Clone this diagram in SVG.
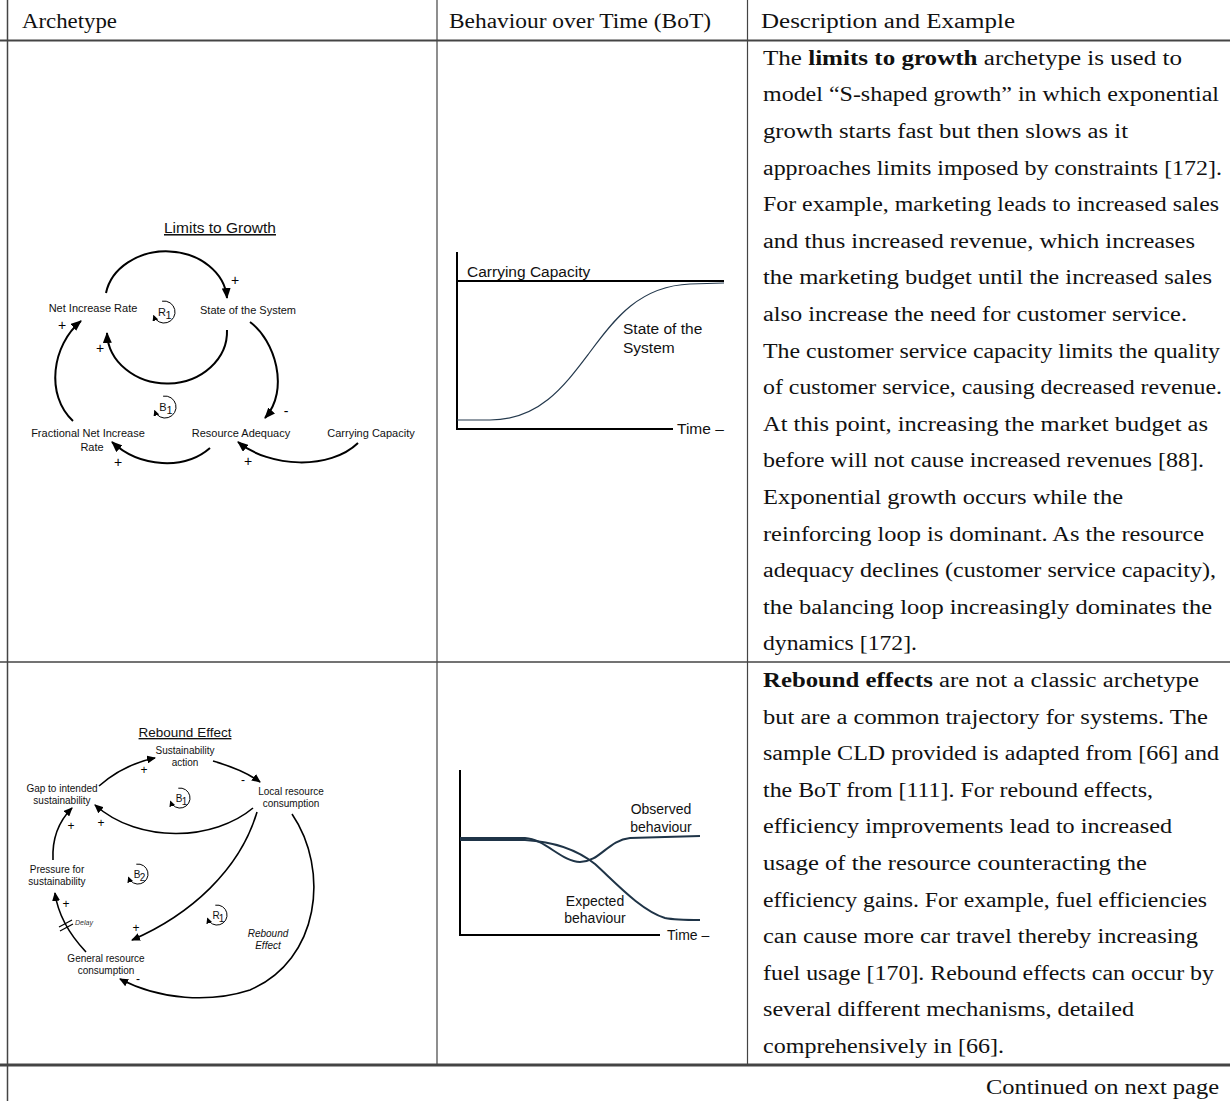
<svg xmlns="http://www.w3.org/2000/svg" width="1230" height="1101" viewBox="0 0 1230 1101">
<style>
.body{font-family:"Liberation Serif","Times New Roman",serif;font-size:20px;fill:#111}
.cont{font-family:"Liberation Serif","Times New Roman",serif;font-size:20px;fill:#111;text-anchor:end}
.cld{font-family:"Liberation Sans",Arial,sans-serif;font-size:11px;fill:#111;text-anchor:middle}
.cld2{font-family:"Liberation Sans",Arial,sans-serif;font-size:10px;fill:#111;text-anchor:middle}
.delay{font-family:"Liberation Sans",Arial,sans-serif;font-size:7px;fill:#333;font-style:italic;text-anchor:start}
.sign{font-family:"Liberation Sans",Arial,sans-serif;font-size:14px;fill:#000;text-anchor:middle}
.sign2{font-family:"Liberation Sans",Arial,sans-serif;font-size:12px;fill:#000;text-anchor:middle}
.title{font-family:"Liberation Sans",Arial,sans-serif;fill:#111;text-anchor:middle;text-decoration:underline}
.bot{font-family:"Liberation Sans",Arial,sans-serif;font-size:15.5px;fill:#111}
.bot2{font-family:"Liberation Sans",Arial,sans-serif;font-size:14px;fill:#111;text-anchor:middle}
.time2{font-family:"Liberation Sans",Arial,sans-serif;font-size:14px;fill:#111;text-anchor:start}
.arr{fill:none;stroke:#000;stroke-width:2}
.arr2{fill:none;stroke:#000;stroke-width:1.6}
.loop{fill:none;stroke:#000;stroke-width:1}
.axis{fill:none;stroke:#000;stroke-width:2}
.curve{fill:none;stroke:#24394d;stroke-width:1.2}
.curve2{fill:none;stroke:#1f3447;stroke-width:2}
.grid{stroke:#444;fill:none}
</style>
<defs>
<marker id="ah" markerUnits="userSpaceOnUse" markerWidth="11" markerHeight="9" refX="10" refY="4.5" orient="auto"><path d="M0,0 L11,4.5 L0,9 z" fill="#000"/></marker>
<marker id="ah2" markerUnits="userSpaceOnUse" markerWidth="9" markerHeight="8" refX="8" refY="4" orient="auto"><path d="M0,0 L9,4 L0,8 z" fill="#000"/></marker>
<marker id="ahs" markerUnits="userSpaceOnUse" markerWidth="6" markerHeight="6" refX="5" refY="3" orient="auto"><path d="M0,0 L6,3 L0,6 z" fill="#000"/></marker>
</defs>

<g id="table">
<line class="grid" x1="7.5" y1="0" x2="7.5" y2="1101" stroke-width="1.5"/>
<line class="grid" x1="437" y1="0" x2="437" y2="1065" stroke-width="1.2"/>
<line class="grid" x1="747.5" y1="0" x2="747.5" y2="1065" stroke-width="1.2"/>
<line class="grid" x1="0" y1="40.5" x2="1230" y2="40.5" stroke-width="2"/>
<line class="grid" x1="0" y1="662" x2="1230" y2="662" stroke-width="1.6"/>
<line class="grid" x1="0" y1="1065" x2="1230" y2="1065" stroke-width="3"/>
<text class="body" x="22" y="28" textLength="95" lengthAdjust="spacingAndGlyphs">Archetype</text>
<text class="body" x="449" y="28" textLength="262" lengthAdjust="spacingAndGlyphs">Behaviour over Time (BoT)</text>
<text class="body" x="761" y="28" textLength="254" lengthAdjust="spacingAndGlyphs">Description and Example</text>
<text class="cont" x="1219" y="1093.5" textLength="233" lengthAdjust="spacingAndGlyphs">Continued on next page</text>
</g>

<g id="desc-limits" class="body">
<text x="763" y="64.8" textLength="419" lengthAdjust="spacingAndGlyphs">The <tspan font-weight="bold">limits to growth</tspan> archetype is used to</text>
<text x="763" y="101.4" textLength="456" lengthAdjust="spacingAndGlyphs">model “S-shaped growth” in which exponential</text>
<text x="763" y="138" textLength="365" lengthAdjust="spacingAndGlyphs">growth starts fast but then slows as it</text>
<text x="763" y="174.6" textLength="459" lengthAdjust="spacingAndGlyphs">approaches limits imposed by constraints [172].</text>
<text x="763" y="211.2" textLength="456" lengthAdjust="spacingAndGlyphs">For example, marketing leads to increased sales</text>
<text x="763" y="247.8" textLength="432" lengthAdjust="spacingAndGlyphs">and thus increased revenue, which increases</text>
<text x="763" y="284.4" textLength="449" lengthAdjust="spacingAndGlyphs">the marketing budget until the increased sales</text>
<text x="763" y="321" textLength="424" lengthAdjust="spacingAndGlyphs">also increase the need for customer service.</text>
<text x="763" y="357.6" textLength="457" lengthAdjust="spacingAndGlyphs">The customer service capacity limits the quality</text>
<text x="763" y="394.2" textLength="459" lengthAdjust="spacingAndGlyphs">of customer service, causing decreased revenue.</text>
<text x="763" y="430.8" textLength="445" lengthAdjust="spacingAndGlyphs">At this point, increasing the market budget as</text>
<text x="763" y="467.4" textLength="441" lengthAdjust="spacingAndGlyphs">before will not cause increased revenues [88].</text>
<text x="763" y="504" textLength="360" lengthAdjust="spacingAndGlyphs">Exponential growth occurs while the</text>
<text x="763" y="540.6" textLength="441" lengthAdjust="spacingAndGlyphs">reinforcing loop is dominant. As the resource</text>
<text x="763" y="577.2" textLength="453" lengthAdjust="spacingAndGlyphs">adequacy declines (customer service capacity),</text>
<text x="763" y="613.8" textLength="449" lengthAdjust="spacingAndGlyphs">the balancing loop increasingly dominates the</text>
<text x="763" y="650.4" textLength="154" lengthAdjust="spacingAndGlyphs">dynamics [172].</text>
</g>

<g id="desc-rebound" class="body">
<text x="763" y="687" textLength="436" lengthAdjust="spacingAndGlyphs"><tspan font-weight="bold">Rebound effects</tspan> are not a classic archetype</text>
<text x="763" y="723.6" textLength="445" lengthAdjust="spacingAndGlyphs">but are a common trajectory for systems. The</text>
<text x="763" y="760.2" textLength="456" lengthAdjust="spacingAndGlyphs">sample CLD provided is adapted from [66] and</text>
<text x="763" y="796.8" textLength="390" lengthAdjust="spacingAndGlyphs">the BoT from [111]. For rebound effects,</text>
<text x="763" y="833.4" textLength="409" lengthAdjust="spacingAndGlyphs">efficiency improvements lead to increased</text>
<text x="763" y="870" textLength="384" lengthAdjust="spacingAndGlyphs">usage of the resource counteracting the</text>
<text x="763" y="906.6" textLength="444" lengthAdjust="spacingAndGlyphs">efficiency gains. For example, fuel efficiencies</text>
<text x="763" y="943.2" textLength="435" lengthAdjust="spacingAndGlyphs">can cause more car travel thereby increasing</text>
<text x="763" y="979.8" textLength="451" lengthAdjust="spacingAndGlyphs">fuel usage [170]. Rebound effects can occur by</text>
<text x="763" y="1016.4" textLength="371" lengthAdjust="spacingAndGlyphs">several different mechanisms, detailed</text>
<text x="763" y="1053" textLength="241" lengthAdjust="spacingAndGlyphs">comprehensively in [66].</text>
</g>

<!-- Limits to Growth CLD -->
<g id="ltg-title"><text class="title" x="220" y="233" font-size="15.5">Limits to Growth</text></g>
<g id="ltg-net"><text class="cld" x="93" y="312">Net Increase Rate</text></g>
<g id="ltg-state"><text class="cld" x="248" y="314">State of the System</text></g>
<g id="ltg-frac"><text class="cld" x="88" y="437">Fractional Net Increase</text><text class="cld" x="92" y="451">Rate</text></g>
<g id="ltg-res"><text class="cld" x="241" y="437">Resource Adequacy</text></g>
<g id="ltg-cap"><text class="cld" x="371" y="437">Carrying Capacity</text></g>
<g id="ltg-r1"><path class="loop" d="M162.1,301.2 A11,11 0 1 1 153.7,315.8" marker-end="url(#ahs)"/><text class="cld" x="162" y="316" font-size="12">R</text><text class="cld" x="168.5" y="319" font-size="7">1</text></g>
<g id="ltg-b1"><path class="loop" d="M163.1,396.2 A11,11 0 1 1 154.7,410.8" marker-end="url(#ahs)"/><text class="cld" x="163" y="411" font-size="12">B</text><text class="cld" x="169.5" y="414" font-size="7">1</text></g>

<!-- Rebound CLD -->
<g id="reb-title"><text class="title" x="185" y="737" font-size="13.5">Rebound Effect</text></g>
<g id="reb-action"><text class="cld2" x="185" y="754">Sustainability</text><text class="cld2" x="185" y="766">action</text></g>
<g id="reb-gap"><text class="cld2" x="62" y="792">Gap to intended</text><text class="cld2" x="62" y="804">sustainability</text></g>
<g id="reb-local"><text class="cld2" x="291" y="795">Local resource</text><text class="cld2" x="291" y="807">consumption</text></g>
<g id="reb-pressure"><text class="cld2" x="57" y="873">Pressure for</text><text class="cld2" x="57" y="885">sustainability</text></g>
<g id="reb-general"><text class="cld2" x="106" y="962">General resource</text><text class="cld2" x="106" y="974">consumption</text></g>
<g id="reb-label"><text class="cld2" x="268" y="937" font-style="italic">Rebound</text><text class="cld2" x="268" y="949" font-style="italic">Effect</text></g>
<g id="reb-b1"><path class="loop" d="M178.3,788.2 A10,10 0 1 1 170.6,801.4" marker-end="url(#ahs)"/><text class="cld2" x="179" y="802">B</text><text class="cld2" x="184.5" y="805" font-size="6.5">1</text></g>
<g id="reb-b2"><path class="loop" d="M136.3,864.2 A10,10 0 1 1 128.6,877.4" marker-end="url(#ahs)"/><text class="cld2" x="137" y="878">B</text><text class="cld2" x="142.5" y="881" font-size="6.5">2</text></g>
<g id="reb-r1"><path class="loop" d="M215.3,905.2 A10,10 0 1 1 207.6,918.4" marker-end="url(#ahs)"/><text class="cld2" x="216" y="919">R</text><text class="cld2" x="221.5" y="922" font-size="6.5">1</text></g>

<g id="connectors">
<path class="arr" d="M106,293 A61,50 0 0 1 227,298" marker-end="url(#ah)"/>
<path class="arr" d="M227,330 A60,52 0 0 1 107,333" marker-end="url(#ah)"/>
<path class="arr" d="M250,322 C275,340 290,390 265,418" marker-end="url(#ah)"/>
<path class="arr" d="M73,421 C45,395 52,345 81,321" marker-end="url(#ah)"/>
<path class="arr" d="M210,448 C185,470 140,468 112,442" marker-end="url(#ah)"/>
<path class="arr" d="M358,443 C330,470 270,468 238,442" marker-end="url(#ah)"/>
<text class="sign" x="235" y="285">+</text>
<text class="sign" x="100" y="353">+</text>
<text class="sign" x="286" y="416">-</text>
<text class="sign" x="62" y="330">+</text>
<text class="sign" x="118" y="467">+</text>
<text class="sign" x="248" y="466">+</text>

<path class="arr2" d="M99,786 C115,772 135,762 155,758" marker-end="url(#ah2)"/>
<path class="arr2" d="M213,761 C230,766 248,773 260,782" marker-end="url(#ah2)"/>
<path class="arr2" d="M253,808 C215,840 140,845 95,805" marker-end="url(#ah2)"/>
<path class="arr2" d="M257,812 C240,870 190,915 132,940" marker-end="url(#ah2)"/>
<path class="arr2" d="M292,814 C330,870 320,960 250,990 C210,1003 160,1000 120,979" marker-end="url(#ah2)"/>
<path class="arr2" d="M86,952 C70,935 58,915 55,893" marker-end="url(#ah2)"/>
<path class="arr2" d="M53,860 C52,840 58,822 72,808" marker-end="url(#ah2)"/>
<line x1="59" y1="927" x2="72" y2="920" stroke="#000" stroke-width="1.2"/>
<line x1="60" y1="931" x2="73" y2="924" stroke="#000" stroke-width="1.2"/>
<text class="delay" x="75" y="924.5">Delay</text>
<text class="sign2" x="144" y="774">+</text>
<text class="sign2" x="243" y="784">-</text>
<text class="sign2" x="101" y="827">+</text>
<text class="sign2" x="136" y="932">+</text>
<text class="sign2" x="138" y="983">-</text>
<text class="sign2" x="66" y="908">+</text>
<text class="sign2" x="71" y="830">+</text>
</g>

<!-- BoT charts -->
<g id="bot-limits">
<path class="axis" d="M457,252 L457,429 L673,429"/>
<line x1="457" y1="281" x2="724" y2="281" stroke="#000" stroke-width="2"/>
<text class="bot" x="467" y="277">Carrying Capacity</text>
<path class="curve" d="M457,420 L490,420 C540,420 565,385 590,352 C615,318 640,286 690,284 L724,283"/>
<text class="bot" x="623" y="334">State of the</text>
<text class="bot" x="623" y="353">System</text>
<text class="bot" x="677" y="434">Time –</text>
</g>

<g id="bot-rebound">
<path class="axis" d="M460,770 L460,935 L660,935"/>
<path class="curve2" d="M460,838 L525,838 C545,839 562,862 580,862 C600,862 608,840 630,838 L700,836"/>
<path class="curve2" d="M460,840 L525,840 C560,842 580,852 595,864 C615,882 640,910 665,918 C675,920 690,920 700,920"/>
<text class="bot2" x="661" y="814">Observed</text>
<text class="bot2" x="661" y="832">behaviour</text>
<text class="bot2" x="595" y="906">Expected</text>
<text class="bot2" x="595" y="923">behaviour</text>
<text class="time2" x="667" y="940">Time –</text>
</g>
</svg>
